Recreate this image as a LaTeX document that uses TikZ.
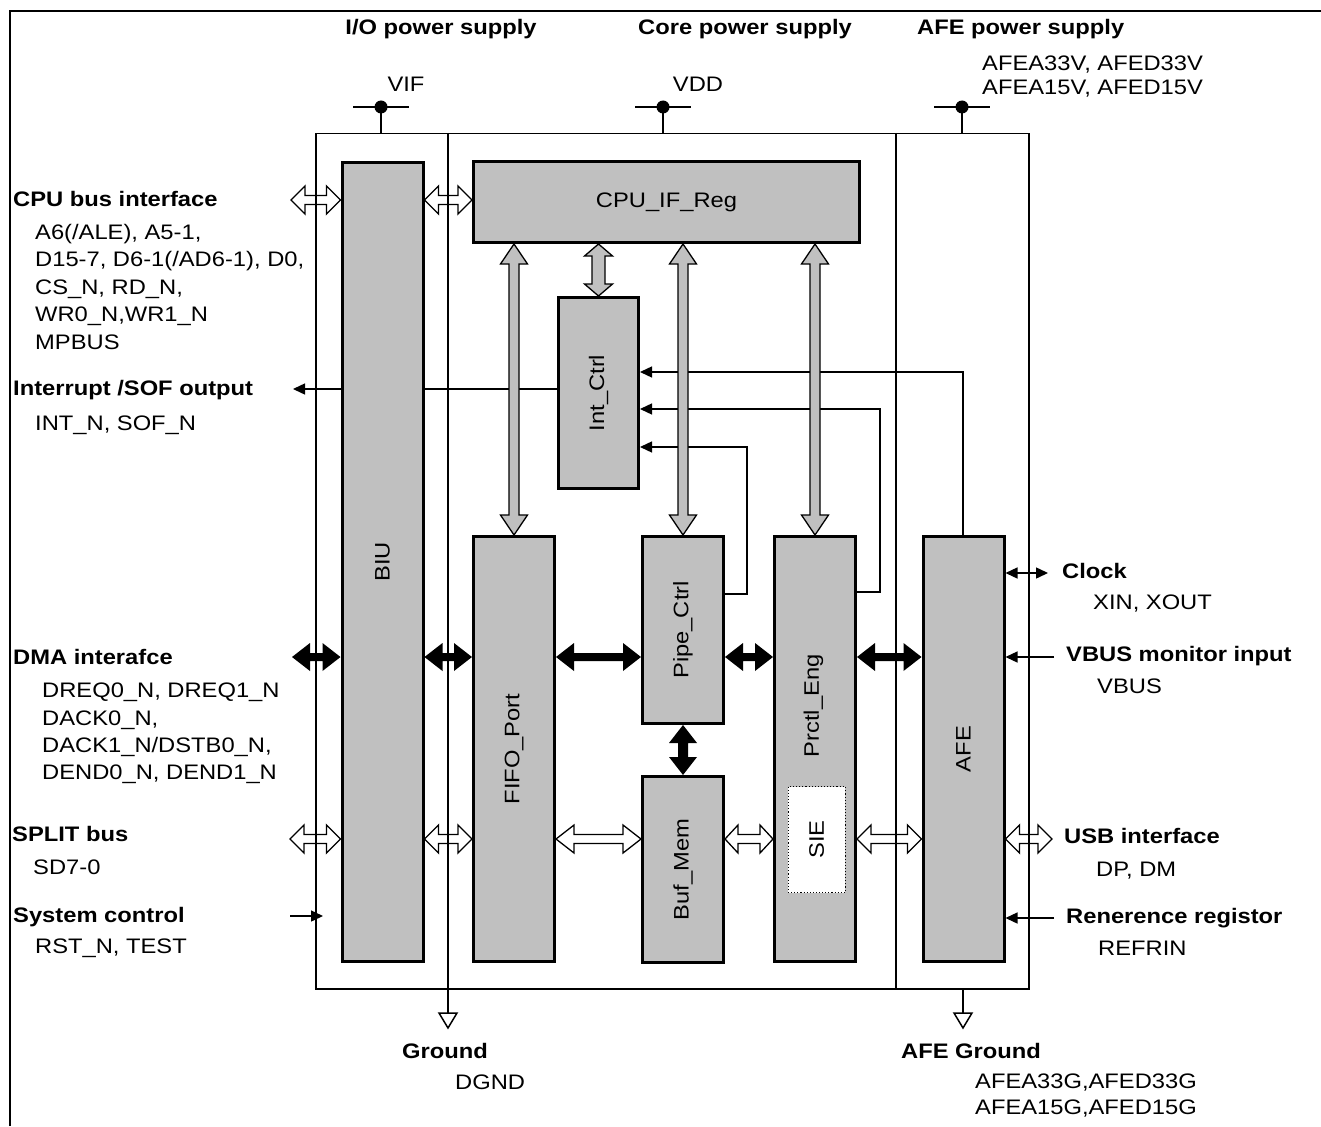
\documentclass[tikz,border=0pt]{standalone}
\usepackage{fontspec}
\setmainfont{Liberation Sans}[FakeStretch=1.13]
\usetikzlibrary{arrows.meta,calc}
\definecolor{blkgray}{HTML}{C0C0C0}
\newcommand\dfont{\fontsize{21}{25}\selectfont}
% horizontal block double arrow: style, left end, right end, head length, half head, half shaft
\newcommand\hbarrow[6]{%
 \path[#1] let \p1=(#2), \p2=(#3) in
 (\x1,\y1) -- ({\x1+#4},{\y1+#5}) -- ({\x1+#4},{\y1+#6}) -- ({\x2-#4},{\y1+#6}) -- ({\x2-#4},{\y1+#5}) -- (\x2,\y1)
 -- ({\x2-#4},{\y1-#5}) -- ({\x2-#4},{\y1-#6}) -- ({\x1+#4},{\y1-#6}) -- ({\x1+#4},{\y1-#5}) -- cycle;}
% vertical block double arrow: style, top end, bottom end, head length, half head, half shaft
\newcommand\vbarrow[6]{%
 \path[#1] let \p1=(#2), \p2=(#3) in
 (\x1,\y1) -- ({\x1+#5},{\y1-#4}) -- ({\x1+#6},{\y1-#4}) -- ({\x1+#6},{\y2+#4}) -- ({\x1+#5},{\y2+#4}) -- (\x1,\y2)
 -- ({\x1-#5},{\y2+#4}) -- ({\x1-#6},{\y2+#4}) -- ({\x1-#6},{\y1-#4}) -- ({\x1-#5},{\y1-#4}) -- cycle;}
\tikzset{
 blk/.style={draw, line width=3pt, fill=blkgray, anchor=north west, inner sep=0pt, font=\dfont},
 lbl/.style={anchor=base west, inner sep=0pt, font=\dfont},
 blbl/.style={lbl, font=\dfont\bfseries},
 outl/.style={line width=1.5pt},
 wirearr/.style={line width=1.4pt, -{Triangle[length=12pt,width=11pt]}},
 wirearrb/.style={line width=1.4pt, {Triangle[length=12pt,width=11pt]}-{Triangle[length=12pt,width=11pt]}},
 warr/.style={draw, line width=1.3pt, line join=miter},
 garr/.style={draw, line width=1.3pt, fill=blkgray, line join=miter},
 karr/.style={fill=black},
 pdot/.style={circle, fill=black, inner sep=0pt, minimum size=13pt},
 pbar/.style={line width=1.8pt},
}
\begin{document}
\begin{tikzpicture}[x=1pt,y=-1pt]
\useasboundingbox (0,0) rectangle (1321,1126);
% frame
\draw[line width=2.4pt] (10,1126) -- (10,11) -- (1321,11);
% chip outline
\node[draw, outl, anchor=north west, minimum width=713pt, minimum height=855pt, inner sep=0pt] (chip) at (315,133) {};
\coordinate (gnd1) at (448,1013);
\coordinate (gnd2) at (963,1013);
\coordinate (div2) at (896,988);
\draw[outl] (gnd1 |- chip.north) -- (gnd1);
\draw[outl] (div2 |- chip.north) -- (div2);
\draw[outl] (gnd2 |- chip.south) -- (gnd2);
\draw[outl, line join=miter] ($(gnd1)+(-9,0)$) -- ($(gnd1)+(9,0)$) -- ($(gnd1)+(0,15)$) -- cycle;
\draw[outl, line join=miter] ($(gnd2)+(-9,0)$) -- ($(gnd2)+(9,0)$) -- ($(gnd2)+(0,15)$) -- cycle;
% power supplies
\node[pdot] (vifdot) at (381,107) {};
\node[pdot] (vdddot) at (663,107) {};
\node[pdot] (afedot) at (962,107) {};
\foreach \d in {vifdot,vdddot,afedot}{
 \draw[pbar] ($(\d)+(-28,0)$) -- ($(\d)+(28,0)$);
 \draw[outl] (\d.center) -- (\d.center |- chip.north);
}
% interrupt output line (behind BIU)
\coordinate (intout) at (293,389);
\coordinate (intsrc) at (557,389);
\draw[wirearr] (intsrc) -- (intout);
% blocks
\node[blk, minimum width=81pt, minimum height=799pt] (biu) at (340.5,161) {\rotatebox{90}{BIU}};
\node[blk, minimum width=386pt, minimum height=81pt] (cpu) at (472,160) {CPU\_IF\_Reg};
\node[blk, minimum width=80pt, minimum height=191pt] (intc) at (557,296) {\rotatebox{90}{Int\_Ctrl}};
\node[blk, minimum width=81pt, minimum height=425pt] (fifo) at (472,535) {\rotatebox{90}{FIFO\_Port}};
\node[blk, minimum width=81pt, minimum height=187pt] (pipe) at (641,535) {\rotatebox{90}{Pipe\_Ctrl}};
\node[blk, minimum width=81pt, minimum height=186pt] (buf) at (641,775) {\rotatebox{90}{Buf\_Mem}};
\node[blk, minimum width=81pt, minimum height=425pt] (prctl) at (773,535) {};
\node[inner sep=0pt, font=\dfont] (prctltxt) at (813.5,706) {\rotatebox{90}{Prctl\_Eng}};
\node[draw, dotted, line width=1.1pt, fill=white, anchor=north west, inner sep=0pt, minimum width=57pt, minimum height=106pt, font=\dfont] (sie) at (787.5,786) {\rotatebox{90}{SIE}};
\node[blk, minimum width=81pt, minimum height=425pt] (afe) at (921.5,535) {\rotatebox{90}{AFE}};
% wires into Int_Ctrl
\coordinate (w1) at (963,372);
\draw[wirearr] (afe.north -| w1) -- (w1) -- (intc.east |- w1);
\coordinate (w2a) at (880,592);
\coordinate (w2b) at (880,409);
\draw[wirearr] (prctl.east |- w2a) -- (w2a) -- (w2b) -- (intc.east |- w2b);
\coordinate (w3a) at (747,594);
\coordinate (w3b) at (747,447);
\draw[wirearr] (pipe.east |- w3a) -- (w3a) -- (w3b) -- (intc.east |- w3b);
% system control and right-side thin arrows
\coordinate (sysL) at (290,916);
\coordinate (sysR) at (323,916);
\draw[wirearr] (sysL) -- (sysR);
\coordinate (clkR) at (1048,573);
\draw[wirearrb] (afe.east |- clkR) -- (clkR);
\coordinate (vbusR) at (1054,657);
\draw[wirearr] (vbusR) -- (afe.east |- vbusR);
\coordinate (refR) at (1054,918);
\draw[wirearr] (refR) -- (afe.east |- refR);
% rows
\coordinate (rcpu) at (0,200);
\coordinate (rdma) at (0,657);
\coordinate (rsplit) at (0,839);
\coordinate (cpuL) at (291,200);
\coordinate (dmaL) at (292,657);
\coordinate (splitL) at (290,839);
\coordinate (usbR) at (1052,839);
% white double arrows
\hbarrow{warr}{cpuL}{biu.west |- rcpu}{14pt}{14pt}{4.5pt}
\hbarrow{warr}{biu.east |- rcpu}{cpu.west |- rcpu}{14pt}{14pt}{4.5pt}
\hbarrow{warr}{splitL}{biu.west |- rsplit}{14pt}{14pt}{4.5pt}
\hbarrow{warr}{biu.east |- rsplit}{fifo.west |- rsplit}{14pt}{14pt}{4.5pt}
\hbarrow{warr}{fifo.east |- rsplit}{buf.west |- rsplit}{18pt}{14pt}{4.5pt}
\hbarrow{warr}{buf.east |- rsplit}{prctl.west |- rsplit}{13pt}{14pt}{4.5pt}
\hbarrow{warr}{prctl.east |- rsplit}{afe.west |- rsplit}{14pt}{14pt}{4.5pt}
\hbarrow{warr}{afe.east |- rsplit}{usbR}{14pt}{14pt}{4.5pt}
% black double arrows
\hbarrow{karr}{dmaL}{biu.west |- rdma}{18pt}{14pt}{4pt}
\hbarrow{karr}{biu.east |- rdma}{fifo.west |- rdma}{18pt}{14pt}{4pt}
\hbarrow{karr}{fifo.east |- rdma}{pipe.west |- rdma}{18pt}{14pt}{4pt}
\hbarrow{karr}{pipe.east |- rdma}{prctl.west |- rdma}{18pt}{14pt}{4pt}
\hbarrow{karr}{prctl.east |- rdma}{afe.west |- rdma}{18pt}{14pt}{4pt}
\vbarrow{karr}{pipe.south}{buf.north}{18pt}{14pt}{5pt}
% gray double arrows
\vbarrow{garr}{cpu.south -| fifo.north}{fifo.north}{20pt}{13.5pt}{5pt}
\vbarrow{garr}{cpu.south -| intc.north}{intc.north}{12pt}{14pt}{6.5pt}
\vbarrow{garr}{cpu.south -| pipe.north}{pipe.north}{20pt}{13.5pt}{5pt}
\vbarrow{garr}{cpu.south -| prctl.north}{prctl.north}{20pt}{13.5pt}{5pt}
% top labels
\node[blbl, anchor=base] (tio) at (441,35) {I/O power supply};
\node[blbl] (tcore) at (638,35) {Core power supply};
\node[blbl] (tafe) at (917,35) {AFE power supply};
\node[lbl, anchor=base] (tvif) at (406,92) {VIF};
\node[lbl, anchor=base] (tvdd) at (698,92) {VDD};
\node[lbl] (tafev1) at (982,71) {AFEA33V, AFED33V};
\node[lbl] (tafev2) at (982,95) {AFEA15V, AFED15V};
% left labels
\node[blbl] (tcpu) at (13,206) {CPU bus interface};
\node[lbl] (tcpu1) at (35,239) {A6(/ALE), A5-1,};
\node[lbl] (tcpu2) at (35,266.5) {D15-7, D6-1(/AD6-1), D0,};
\node[lbl] (tcpu3) at (35,294) {CS\_N, RD\_N,};
\node[lbl] (tcpu4) at (35,321.5) {WR0\_N,WR1\_N};
\node[lbl] (tcpu5) at (35,349) {MPBUS};
\node[blbl] (tint) at (13,395) {Interrupt /SOF output};
\node[lbl] (tint1) at (35,430.5) {INT\_N, SOF\_N};
\node[blbl] (tdma) at (13,664) {DMA interafce};
\node[lbl] (tdma1) at (42,697.5) {DREQ0\_N, DREQ1\_N};
\node[lbl] (tdma2) at (42,725) {DACK0\_N,};
\node[lbl] (tdma3) at (42,752.5) {DACK1\_N/DSTB0\_N,};
\node[lbl] (tdma4) at (42,779.5) {DEND0\_N, DEND1\_N};
\node[blbl] (tsplit) at (12,841.5) {SPLIT bus};
\node[lbl] (tsplit1) at (33,874) {SD7-0};
\node[blbl] (tsys) at (13,922) {System control};
\node[lbl] (tsys1) at (35,953) {RST\_N, TEST};
% right labels
\node[blbl] (tclk) at (1062,578) {Clock};
\node[lbl] (tclk1) at (1093,609) {XIN, XOUT};
\node[blbl] (tvbus) at (1066,661.5) {VBUS monitor input};
\node[lbl] (tvbus1) at (1097,693) {VBUS};
\node[blbl] (tusb) at (1064,843) {USB interface};
\node[lbl] (tusb1) at (1096,876.5) {DP, DM};
\node[blbl] (tref) at (1066,923) {Renerence registor};
\node[lbl] (tref1) at (1098,955) {REFRIN};
% bottom labels
\node[blbl] (tgnd) at (402,1058) {Ground};
\node[lbl] (tgnd1) at (455,1089) {DGND};
\node[blbl] (tagnd) at (901,1058) {AFE Ground};
\node[lbl] (tagnd1) at (975,1088) {AFEA33G,AFED33G};
\node[lbl] (tagnd2) at (975,1114) {AFEA15G,AFED15G};
\end{tikzpicture}
\end{document}
